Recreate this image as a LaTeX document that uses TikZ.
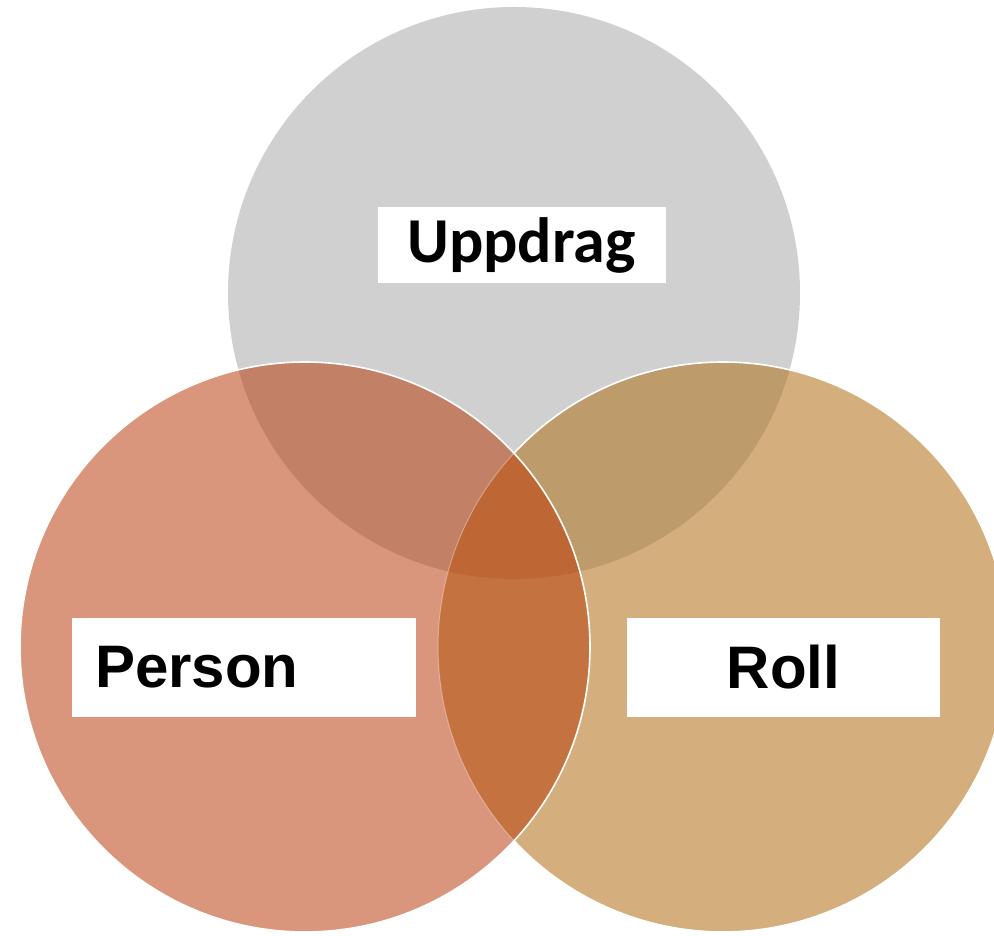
\documentclass[tikz,border=0pt]{standalone}
\usepackage{fontspec}
\setmainfont{Liberation Sans}
\newfontfamily\carlito{Carlito}
\definecolor{cGray}{HTML}{D0D0D0}
\definecolor{cPers}{HTML}{D9967C}
\definecolor{cRoll}{HTML}{D4AE7C}
\definecolor{cGP}{HTML}{C28066}
\definecolor{cGR}{HTML}{BE9B6B}
\definecolor{cPR}{HTML}{C4723F}
\definecolor{cAll}{HTML}{BE6634}
\tikzset{
  labelbox/.style={fill=white, inner sep=0pt, minimum height=99pt},
  rim/.style={draw=white, line width=1.6pt}
}
\begin{document}
\begin{tikzpicture}[x=1pt,y=1pt]
\useasboundingbox (0,0) rectangle (994,936);
\def\R{285}
\coordinate (G) at (514,643);
\coordinate (P) at (305,289);
\coordinate (L) at (723,289);
% base circles
\fill[cGray] (G) circle (286);
\fill[cRoll] (L) circle (\R);
\fill[cPers] (P) circle (\R);
% overlaps
\begin{scope}
  \clip (G) circle (286);
  \fill[cGP] (P) circle (\R);
  \fill[cGR] (L) circle (\R);
\end{scope}
\begin{scope}
  \clip (P) circle (\R);
  \fill[cPR] (L) circle (\R);
  \clip (G) circle (286);
  \fill[cAll] (L) circle (\R);
\end{scope}
% rims
\draw[draw=white, line width=1pt, opacity=0.35] (L) ++(137.1:\R) arc[start angle=137.1, end angle=222.9, radius=\R];
\draw[rim] (L) ++(137.1:\R) arc[start angle=137.1, end angle=-137.1, radius=\R];
\draw[rim] (P) circle (\R);
% labels
\node[labelbox, minimum width=288pt, minimum height=76pt, font=\carlito\bfseries\fontsize{64}{70}\selectfont] (uppdrag) at (521.5,691) {Uppdrag};
\node[labelbox, text width=298pt, inner xsep=23pt, align=left, font=\bfseries\fontsize{60}{66}\selectfont] (person) at (244,268.5) {Person};
\node[labelbox, minimum width=313pt, font=\bfseries\fontsize{60}{66}\selectfont] (roll) at (783.5,268.5) {Roll};
\end{tikzpicture}
\end{document}
